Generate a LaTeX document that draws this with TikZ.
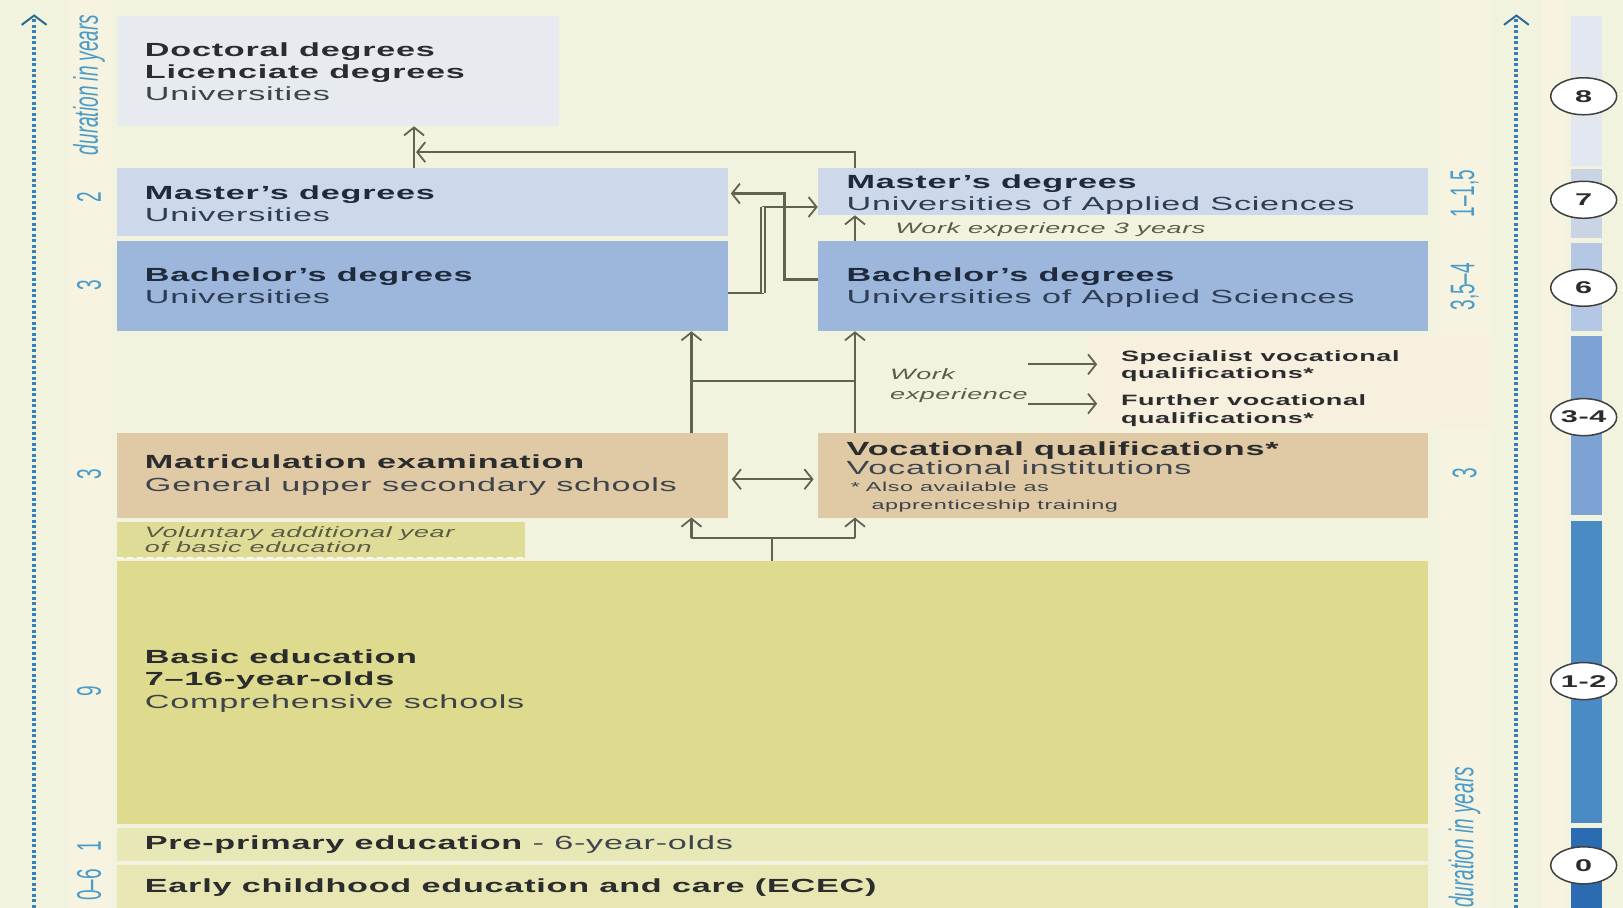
\documentclass[tikz,border=0pt]{standalone}
\usepackage{fontspec}
\setmainfont{Liberation Sans}
\newfontfamily\widefam[FakeStretch=1.8,LetterSpace=4]{Liberation Sans}
\newfontfamily\axisfam{Liberation Sans}
\usetikzlibrary{arrows.meta,shapes.geometric,fit,calc}
\definecolor{bg}{HTML}{F2F3DF}
\definecolor{strip}{HTML}{F6F3E1}
\definecolor{cdoc}{HTML}{E7EBF0}
\definecolor{cmas}{HTML}{CDD9EB}
\definecolor{cbac}{HTML}{9CB6DC}
\definecolor{ctan}{HTML}{E0C9A5}
\definecolor{cvol}{HTML}{DFDC98}
\definecolor{cbas}{HTML}{DEDB8E}
\definecolor{cpre}{HTML}{E8E7B6}
\definecolor{cece}{HTML}{E8E6B3}
\definecolor{cspec}{HTML}{F7F0DE}
\definecolor{cn}{HTML}{5F634F}
\definecolor{axb}{HTML}{3580B8}
\definecolor{axt}{HTML}{2E6A94}
\definecolor{numc}{HTML}{4A9BC8}
\definecolor{tdark}{HTML}{2A2C2E}
\definecolor{tnavy}{HTML}{1F2B3C}
\definecolor{tsub}{HTML}{3E444C}
\definecolor{tbsub}{HTML}{2E3D54}
\definecolor{tolive}{HTML}{5A5C45}
\definecolor{bar8}{HTML}{E3E7F0}
\definecolor{bar7}{HTML}{C9D4E5}
\definecolor{bar6}{HTML}{B4C7E4}
\definecolor{bar34}{HTML}{7CA3D4}
\definecolor{bar12}{HTML}{4A8AC5}
\definecolor{bar0}{HTML}{2A6BB2}
\newcommand{\ftitle}{\widefam\bfseries\fontsize{19}{22}\selectfont}
\newcommand{\fsub}{\widefam\fontsize{19}{22}\selectfont}
\newcommand{\fsmall}{\widefam\bfseries\fontsize{15}{18}\selectfont}
\newcommand{\fsmreg}{\widefam\fontsize{13}{16}\selectfont}
\newcommand{\fital}{\widefam\itshape\fontsize{15}{18}\selectfont}
\newcommand{\faxis}{\axisfam\fontsize{19}{22}\selectfont}
\newcommand{\putline}[5]{\node[txt,font=#4] (#1) at (#2,#3) {#5};}
\newcommand{\rotlab}[5]{\node[rotate=90,anchor=#4,inner sep=0pt,text=numc,font=\faxis] (#1) at (#2,#3) {\scalebox{1}[1.8]{#5}};}
\begin{document}
\begin{tikzpicture}[x=1.035pt,y=-1.035pt,
  box/.style={inner sep=0pt,outer sep=0pt,draw=none},
  txt/.style={anchor=base west,inner sep=0pt,outer sep=0pt},
  conn/.style={draw=cn,line width=2.2pt},
  arr/.style={-{Straight Barb[length=8pt,width=20pt,line width=1.8pt]}},
  darr/.style={{Straight Barb[length=8pt,width=20pt,line width=1.8pt]}-{Straight Barb[length=8pt,width=20pt,line width=1.8pt]}},
  axisline/.style={draw=axb,line width=4pt,dash pattern=on 3pt off 2.5pt},
  axtip/.style={draw=axt,line width=2pt},
  lev/.style={ellipse,draw=black!75,line width=1.5pt,fill=white!96!bg,minimum width=66pt,minimum height=37pt,inner sep=0pt,font=\widefam\bfseries\fontsize{17}{18}\selectfont,text=tdark}
]
\useasboundingbox (0,0) rectangle (1568,877);
\fill[bg] (0,0) rectangle (1568,877);
\fill[strip] (66,0) rectangle (108,877);
\fill[strip] (1392,0) rectangle (1440,877);
\fill[strip] (1490,0) rectangle (1512,877);

% ---------- boxes ----------
\node[box,fill=cdoc,fit={(113,15) (540,122)}] (doc) {};
\node[box,fill=cmas,fit={(113,162) (703,228)}] (masU) {};
\node[box,fill=cbac,fit={(113,233) (703,320)}] (bacU) {};
\node[box,fill=cmas,fit={(790,162) (1380,208)}] (masA) {};
\node[box,fill=cbac,fit={(790,233) (1380,320)}] (bacA) {};
\node[box,fill=cspec,fit={(1050,324) (1440,414)}] (specbg) {};
\node[box,fill=ctan,fit={(113,418) (703,500)}] (mat) {};
\node[box,fill=ctan,fit={(790,418) (1380,500)}] (voc) {};
\node[box,fill=cvol,fit={(113,504) (507,539)}] (vol) {};
\node[box,fill=cbas,fit={(113,542) (1380,796)}] (bas) {};
\node[box,fill=cpre,fit={(113,800) (1380,832)}] (pre) {};
\node[box,fill=cece,fit={(113,836) (1380,877)}] (ece) {};
\draw[white!85!cvol,line width=1.5pt,dash pattern=on 6pt off 4pt] (vol.south west) -- (vol.south east);

% ---------- texts ----------
\putline{t1}{140}{55}{\ftitle\color{tdark}}{Doctoral degrees}
\putline{t2}{140}{76}{\ftitle\color{tdark}}{Licenciate degrees}
\putline{t3}{140}{97}{\fsub\color{tsub}}{Universities}
\putline{t4}{140}{193}{\ftitle\color{tnavy}}{Master’s degrees}
\putline{t5}{140}{214}{\fsub\color{tbsub}}{Universities}
\putline{t6}{140}{272}{\ftitle\color{tnavy}}{Bachelor’s degrees}
\putline{t7}{140}{293}{\fsub\color{tbsub}}{Universities}
\putline{t8}{818}{182}{\ftitle\color{tnavy}}{Master’s degrees}
\putline{t9}{818}{203}{\fsub\color{tbsub}}{Universities of Applied Sciences}
\putline{t10}{865}{226}{\fital\color{tolive}}{Work experience 3 years}
\putline{t11}{818}{272}{\ftitle\color{tnavy}}{Bachelor’s degrees}
\putline{t12}{818}{293}{\fsub\color{tbsub}}{Universities of Applied Sciences}
\putline{we1}{860}{367}{\fital\color{tolive}}{Work}
\putline{we2}{860}{386}{\fital\color{tolive}}{experience}
\putline{sp1}{1083}{349}{\fsmall\color{tdark}}{Specialist vocational}
\putline{sp2}{1083}{366}{\fsmall\color{tdark}}{qualifications*}
\putline{fu1}{1083}{392}{\fsmall\color{tdark}}{Further vocational}
\putline{fu2}{1083}{409}{\fsmall\color{tdark}}{qualifications*}
\putline{t13}{140}{453}{\ftitle\color{tdark}}{Matriculation examination}
\putline{t14}{140}{475}{\fsub\color{tsub}}{General upper secondary schools}
\putline{t15}{818}{440}{\ftitle\color{tdark}}{Vocational qualifications*}
\putline{t16}{818}{458}{\fsub\color{tsub}}{Vocational institutions}
\putline{t17}{822}{475}{\fsmreg\color{tsub}}{*\hspace{6pt}Also available as}
\putline{t18}{842}{492}{\fsmreg\color{tsub}}{apprenticeship training}
\putline{t19}{140}{519}{\fital\color{tolive}}{Voluntary additional year}
\putline{t20}{140}{534}{\fital\color{tolive}}{of basic education}
\putline{t21}{140}{641}{\ftitle\color{tdark}}{Basic education}
\putline{t22}{140}{662}{\ftitle\color{tdark}}{7–16-year-olds}
\putline{t23}{140}{684}{\fsub\color{tsub}}{Comprehensive schools}
\putline{t24}{140}{821}{\ftitle\color{tdark}}{Pre-primary education {\mdseries\color{tsub} - 6-year-olds}}
\putline{t25}{140}{862}{\ftitle\color{tdark}}{Early childhood education and care (ECEC)}

% ---------- axes ----------
\coordinate (la0) at (33,877);
\coordinate (la1) at (33,15);
\draw[axisline] (la0) -- ($(la1)+(0,3)$);
\draw[axtip] ($(la1)+(-12,9)$) -- (la1) -- ($(la1)+(12,9)$);
\coordinate (ra0) at (1465,877);
\coordinate (ra1) at (1465,15);
\draw[axisline] (ra0) -- ($(ra1)+(0,3)$);
\draw[axtip] ($(ra1)+(-12,9)$) -- (ra1) -- ($(ra1)+(12,9)$);

\rotlab{ld}{86}{150}{west}{\itshape duration in years}
\rotlab{l2}{86}{191}{center}{2}
\rotlab{l3a}{86}{276}{center}{3}
\rotlab{l3b}{86}{458}{center}{3}
\rotlab{l9}{86}{668}{center}{9}
\rotlab{l1}{86}{818}{center}{1}
\rotlab{l06}{86}{855}{center}{0–6}
\rotlab{r1}{1415}{187}{center}{1–1,5}
\rotlab{r2}{1415}{277}{center}{3,5–4}
\rotlab{r3}{1415}{457}{center}{3}
\rotlab{rd}{1415}{877}{west}{\itshape duration in years}

% ---------- level bar ----------
\fill[bar8] (1518,15) rectangle (1548,160);
\fill[bar7] (1518,163) rectangle (1548,230);
\fill[bar6] (1518,235) rectangle (1548,320);
\fill[bar34] (1518,325) rectangle (1548,498);
\fill[bar12] (1518,503) rectangle (1548,795);
\fill[bar0] (1518,800) rectangle (1548,877);
\node[lev] (c8) at (1530,93) {8};
\node[lev] (c7) at (1530,193) {7};
\node[lev] (c6) at (1530,278) {6};
\node[lev] (c34) at (1530,403) {3-4};
\node[lev] (c12) at (1530,658) {1-2};
\node[lev] (c0) at (1530,836) {0};

% ---------- connectors ----------
\coordinate (split) at (746,520);
\coordinate (cL) at (668,520);
\coordinate (cR) at (826,520);
\coordinate (hy) at (0,368);
\draw[conn] (bas.north -| split) -- (split);
\draw[conn] (cL) -- (cR);
\draw[conn,arr] (cL) -- (cL |- mat.south);
\draw[conn,arr] (cR) -- (cR |- voc.south);
\draw[conn,darr] ($(mat.east)+(4,4)$) -- ($(voc.west)+(-4,4)$);
\draw[conn,arr] (cL |- mat.north) -- (cL |- bacU.south);
\draw[conn,arr] (cR |- voc.north) -- (cR |- bacA.south);
\draw[conn] (cL |- hy) -- (cR |- hy);
\coordinate (wa1) at (993,352);
\coordinate (wa2) at (993,390);
\coordinate (wx) at (1060,0);
\draw[conn,arr] (wa1) -- (wa1 -| wx);
\draw[conn,arr] (wa2) -- (wa2 -| wx);
\draw[conn,arr] (cR |- bacA.north) -- (cR |- masA.south);
% masters to doctoral
\coordinate (dx) at (400,147);
\draw[conn,arr] (dx |- masU.north) -- (dx |- doc.south);
\draw[conn,arr] (cR |- masA.north) -- (cR |- dx) -- ($(dx)+(2,0)$);
% bachelor univ -> master UAS
\coordinate (v1) at (737,283);
\coordinate (v1t) at (737,200);
\draw[conn,arr] (bacU.east |- v1) -- (v1) -- (v1t) -- (masA.west |- v1t);
\draw[draw=cn,line width=1.4pt,double=bg,double distance=2.5pt] (v1) -- (v1t);
% bachelor UAS -> master univ
\coordinate (v2) at (758,270);
\coordinate (v2t) at (758,187);
\draw[conn,arr] (bacA.west |- v2) -- (v2) -- (v2t) -- ($(masU.east |- v2t)+(3,0)$);
\end{tikzpicture}
\end{document}
